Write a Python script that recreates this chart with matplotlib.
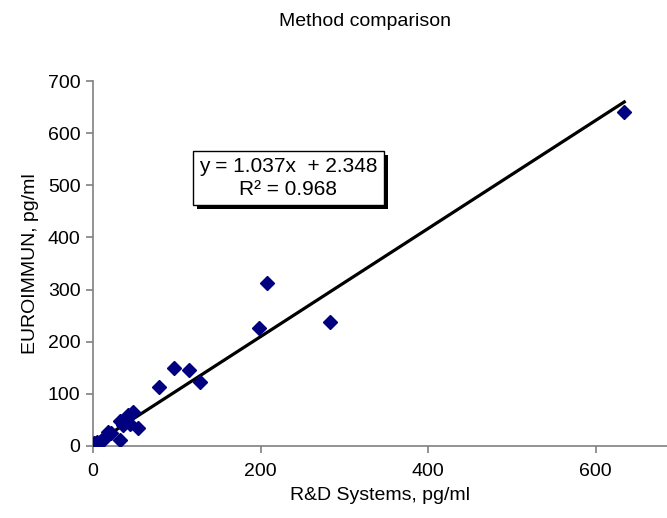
import matplotlib
matplotlib.use("Agg")
import matplotlib.pyplot as plt
import matplotlib.patheffects as pe
import numpy as np

plt.rcParams['font.family'] = ['Liberation Sans', 'DejaVu Sans']

# Data
rd_systems = [0.5, 1, 2, 3, 4, 5, 7, 9, 12, 16, 18, 22, 32, 32, 36, 40, 42, 44, 48, 54,
              79, 97, 114, 128, 198, 208, 283, 634]
euroimmun = [2, 5, 1, 6, 4, 8, 3, 10, 14, 18, 26, 24, 47, 11, 40, 55, 60, 43, 66, 34,
             114, 149, 146, 122, 226, 312, 237, 641]
slope = 1.037
intercept = 2.348
r2 = 0.968

title = "Method comparison"
xlabel = "R&D Systems, pg/ml"
ylabel = "EUROIMMUN, pg/ml"
xticks = [0, 200, 400, 600]
yticks = [0, 100, 200, 300, 400, 500, 600, 700]

fig = plt.figure(figsize=(6.67, 5.18), dpi=100)
ax = fig.add_axes([93/667, 72/518, (667-93)/667, (446-81)/518])

ax.plot(rd_systems, euroimmun, linestyle='none', marker='D', markersize=7,
        color='#000080', zorder=3)
xs = np.array([min(rd_systems), max(rd_systems)])
ax.plot(xs, slope*xs + intercept, color='black', linewidth=2.3, zorder=2)

ax.set_xlim(0, 685)
ax.set_ylim(0, 700)
ax.set_xticks(xticks)
ax.set_yticks(yticks)
for s in ['top', 'right']:
    ax.spines[s].set_visible(False)
for s in ['left', 'bottom']:
    ax.spines[s].set_color('#808080')
    ax.spines[s].set_linewidth(1.2)
ax.tick_params(axis='both', direction='out', length=5, width=1.2, color='#808080',
               labelsize=14, pad=4)
ax.tick_params(axis='x', pad=7)
ax.set_xlabel(xlabel, fontsize=14, labelpad=5)
ax.set_ylabel(ylabel, fontsize=14, labelpad=6)
fig.text(365/667, 1 - 22/518, title, ha='center', va='center', fontsize=14)

t = ax.text(233, 514, f"y = {slope:.3f}x  + {intercept:.3f}\nR² = {r2:.3f}",
            ha='center', va='center', fontsize=15, linespacing=1.25,
            bbox=dict(boxstyle='square,pad=0.3', facecolor='white', edgecolor='black',
                      linewidth=1))
t.get_bbox_patch().set_path_effects([
    pe.SimplePatchShadow(offset=(3, -3), shadow_rgbFace='black', alpha=1.0),
    pe.Normal()])

fig.savefig("out.png", dpi=100)
